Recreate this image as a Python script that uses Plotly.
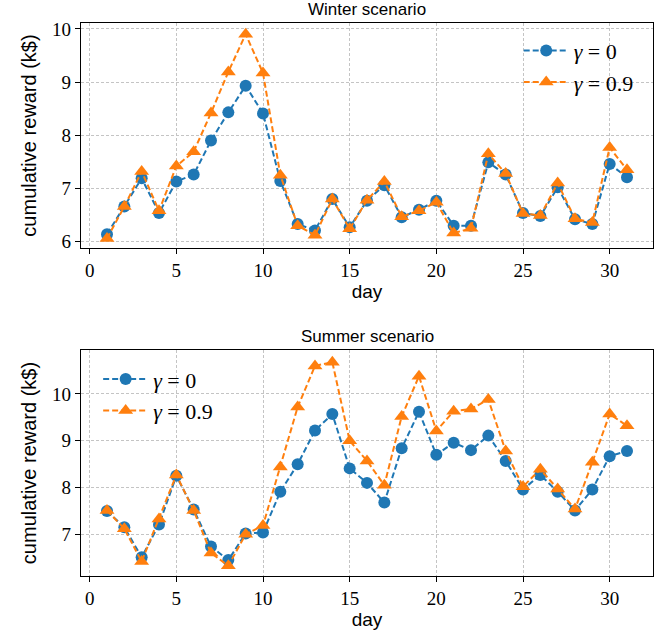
import plotly.graph_objects as go

days = list(range(1, 32))

winter_g0 = [6.14, 6.66, 7.19, 6.54, 7.13, 7.26, 7.90, 8.43, 8.93, 8.41,
             7.14, 6.33, 6.21, 6.80, 6.27, 6.77, 7.06, 6.46, 6.60, 6.77,
             6.30, 6.30, 7.49, 7.26, 6.54, 6.48, 7.02, 6.42, 6.33, 7.46, 7.21]
winter_g09 = [6.06, 6.66, 7.32, 6.58, 7.42, 7.69, 8.42, 9.19, 9.90, 9.17,
              7.25, 6.30, 6.12, 6.80, 6.24, 6.78, 7.13, 6.47, 6.58, 6.74,
              6.16, 6.25, 7.65, 7.28, 6.53, 6.49, 7.10, 6.43, 6.36, 7.77, 7.35]

summer_g0 = [7.50, 7.15, 6.51, 7.21, 8.25, 7.53, 6.74, 6.45, 7.02, 7.04,
             7.91, 8.50, 9.22, 9.57, 8.41, 8.10, 7.68, 8.84, 9.62, 8.70,
             8.96, 8.80, 9.11, 8.57, 7.96, 8.27, 7.91, 7.51, 7.96, 8.67, 8.78]
summer_g09 = [7.51, 7.12, 6.42, 7.33, 8.27, 7.51, 6.60, 6.33, 7.00, 7.19,
              8.44, 9.72, 10.60, 10.68, 9.00, 8.57, 8.05, 9.52, 10.38, 9.21,
              9.63, 9.68, 9.88, 8.78, 8.02, 8.39, 7.97, 7.54, 8.54, 9.57, 9.32]

x_ticks = [0, 5, 10, 15, 20, 25, 30]
BLUE = "#1f77b4"
ORANGE = "#ff7f0e"
SERIF = "Liberation Serif, DejaVu Serif, serif"
SANS = "Liberation Sans, sans-serif"

fig = go.Figure()

def add(x, y, name, color, symbol, xa, ya, legend):
    fig.add_trace(go.Scatter(
        x=x, y=y, name=name, mode="lines+markers",
        line=dict(color=color, width=2, dash="6px,3px"),
        marker=dict(color=color, symbol=symbol, size=12 if symbol == "circle" else 13),
        xaxis=xa, yaxis=ya, legend=legend,
    ))

add(days, winter_g0, "<i>γ</i> = 0", BLUE, "circle", "x", "y", "legend")
add(days, winter_g09, "<i>γ</i> = 0.9", ORANGE, "triangle-up", "x", "y", "legend")
add(days, summer_g0, "<i>γ</i> = 0", BLUE, "circle", "x2", "y2", "legend2")
add(days, summer_g09, "<i>γ</i> = 0.9", ORANGE, "triangle-up", "x2", "y2", "legend2")

ax_common = dict(
    showline=True, linecolor="black", linewidth=1.2, mirror=True,
    ticks="outside", ticklen=5, tickcolor="black", tickwidth=1.2,
    showgrid=True, gridcolor="#c4c4c4", gridwidth=0.8, griddash="3px,2px",
    zeroline=False, automargin=False,
    tickfont=dict(family=SERIF, size=19, color="black"),
)

title_font = dict(family=SANS, size=19, color="black")
ylab_font = dict(family=SANS, size=20, color="black")

fig.update_layout(
    width=667, height=637,
    margin=dict(l=81, r=14, t=23, b=61),
    plot_bgcolor="white", paper_bgcolor="white",
    xaxis=dict(domain=[0, 1], anchor="y", range=[-0.5, 32.5], tickvals=x_ticks,
               title=dict(text="day", font=title_font, standoff=3), **ax_common),
    yaxis=dict(domain=[0.5931, 1], anchor="x", range=[5.88, 10.11], tickvals=[6, 7, 8, 9, 10],
               title=dict(text="cumulative reward (k$)", font=ylab_font, standoff=10), **ax_common),
    xaxis2=dict(domain=[0, 1], anchor="y2", range=[-0.5, 32.5], tickvals=x_ticks,
                title=dict(text="day", font=title_font, standoff=3), **ax_common),
    yaxis2=dict(domain=[0, 0.4087], anchor="x2", range=[6.11, 10.94], tickvals=[7, 8, 9, 10],
                title=dict(text="cumulative reward (k$)", font=ylab_font, standoff=10), **ax_common),
    legend=dict(x=0.975, y=0.988, xanchor="right", yanchor="top", itemwidth=45,
                bgcolor="rgba(255,255,255,0)", font=dict(family=SERIF, size=22, color="black")),
    legend2=dict(x=0.03, y=0.394, xanchor="left", yanchor="top", itemwidth=45,
                 bgcolor="rgba(255,255,255,0)", font=dict(family=SERIF, size=22, color="black")),
    annotations=[
        dict(text="Winter scenario", x=0.5, y=1, xref="paper", yref="paper", yanchor="bottom",
             showarrow=False, yshift=2, font=dict(family=SANS, size=17, color="black")),
        dict(text="Summer scenario", x=0.5, y=0.4087, xref="paper", yref="paper", yanchor="bottom",
             showarrow=False, yshift=2, font=dict(family=SANS, size=17, color="black")),
    ],
)

fig.write_html("out.html", config={"displayModeBar": False},
               post_script="document.body.style.margin='0px';document.body.style.padding='0px';")
